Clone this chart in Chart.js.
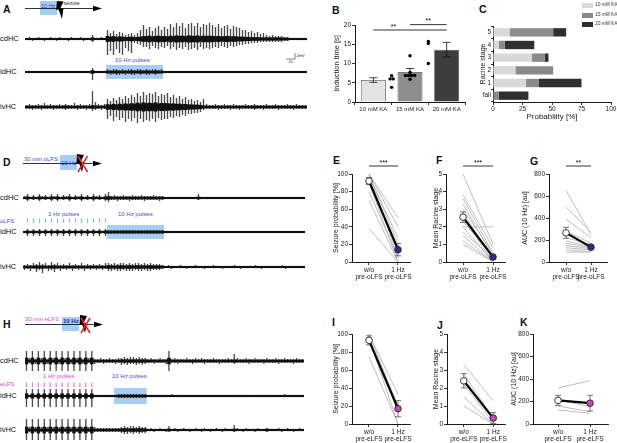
<!DOCTYPE html>
<html>
<head>
<meta charset="utf-8">
<script src="https://cdn.jsdelivr.net/npm/chart.js@4.4.1/dist/chart.umd.min.js"></script>
<style>
html, body { margin: 0; padding: 0; background: #fff; }
body { width: 617px; height: 443px; position: relative; overflow: hidden; font-family: "Liberation Sans", Arial, sans-serif; color: #111; }
.box { position: absolute; }
.t { position: absolute; white-space: nowrap; line-height: 1; }
.lt { font-weight: bold; font-size: 10.5px; }
.tr { font-size: 7.5px; }
.sm { font-size: 6px; }
.blue { color: #4a4ad6; }
.mag { color: #e048d0; }
.leg { position: absolute; width: 11px; height: 5px; }
</style>
</head>
<body>

<svg class="box" style="left:0;top:0" width="617" height="443" viewBox="0 0 617 443" font-family="Liberation Sans, Arial, sans-serif">
  <!-- A schematic -->
  <rect x="40" y="1" width="17" height="14" fill="#a6cef3"/>
  <line x1="25" y1="8.5" x2="95" y2="8.5" stroke="#000" stroke-width="0.8"/>
  <polygon points="93,5.8 102,8.5 93,11.2" fill="#000"/>
  <text x="41" y="7.5" font-size="5.5" fill="#3a3ad0">10 Hz</text>
  <polygon points="57,1 63.5,1.5 60.5,8 63.5,8 62,19 58.5,9.5 56,10" fill="#000"/>
  <text x="63.5" y="5" font-size="5" fill="#222">seizure</text>
  <polyline points="286,59 295,59 295,53" fill="none" stroke="#000" stroke-width="0.5"/>
  <text x="296.5" y="56.5" font-size="4" fill="#222">2mV</text>
  <text x="288.5" y="63" font-size="4" fill="#222">2s</text>
  <!-- D schematic -->
  <rect x="60" y="155" width="17" height="15" fill="#a6cef3"/>
  <text x="24" y="160.5" font-size="6" fill="#4848d8">30 min oLFS</text>
  <line x1="23" y1="163.5" x2="95" y2="163.5" stroke="#000" stroke-width="0.8"/>
  <polygon points="93,160.8 102,163.5 93,166.2" fill="#000"/>
  <text x="61" y="165" font-size="6" fill="#2a2ac8">10 Hz</text>
  <polygon points="77,154 84,155 80.5,162 84,162 82,172 79,163 76.5,164" fill="#000"/>
  <line x1="78" y1="156" x2="87.5" y2="172" stroke="#e3262a" stroke-width="1.6"/>
  <line x1="87.5" y1="156" x2="78" y2="172" stroke="#e3262a" stroke-width="1.6"/>
  <!-- H schematic -->
  <rect x="62" y="317" width="17" height="14" fill="#a6cef3"/>
  <text x="25" y="321" font-size="6" fill="#e048d0">30 min eLFS</text>
  <line x1="25" y1="324.5" x2="96" y2="324.5" stroke="#000" stroke-width="0.8"/>
  <polygon points="94,321.8 103,324.5 94,327.2" fill="#000"/>
  <text x="63" y="322.5" font-size="6" font-weight="bold" fill="#2424b8">10 Hz</text>
  <polygon points="80,315 87,316 83.5,323 87,323 85,333 82,324 79.5,325" fill="#000"/>
  <line x1="81" y1="318" x2="90" y2="333" stroke="#e3262a" stroke-width="1.6"/>
  <line x1="90" y1="318" x2="81" y2="333" stroke="#e3262a" stroke-width="1.6"/>
</svg>

<!-- panel letters -->
<div class="t lt" style="left:3px;top:3.5px">A</div>
<div class="t lt" style="left:332px;top:4.5px">B</div>
<div class="t lt" style="left:479px;top:3.5px">C</div>
<div class="t lt" style="left:3px;top:156.5px">D</div>
<div class="t lt" style="left:333px;top:154.5px">E</div>
<div class="t lt" style="left:436px;top:155px">F</div>
<div class="t lt" style="left:530px;top:156px">G</div>
<div class="t lt" style="left:3px;top:318.5px">H</div>
<div class="t lt" style="left:332px;top:316.5px">I</div>
<div class="t lt" style="left:437px;top:320px">J</div>
<div class="t lt" style="left:520px;top:316.5px">K</div>

<!-- trace labels -->
<div class="t tr" style="left:0;top:35px">cdHC</div>
<div class="t tr" style="left:0;top:68px">idHC</div>
<div class="t tr" style="left:0;top:103px">ivHC</div>
<div class="t tr" style="left:0;top:194px">cdHC</div>
<div class="t tr" style="left:0;top:228px">idHC</div>
<div class="t tr" style="left:0;top:263px">ivHC</div>
<div class="t tr" style="left:0;top:357px">cdHC</div>
<div class="t tr" style="left:0;top:392px">idHC</div>
<div class="t tr" style="left:0;top:426px">ivHC</div>

<div class="t sm blue" style="left:115px;top:57px">10 Hz pulses</div>
<div class="t sm blue" style="left:48px;top:211px">1 Hz pulses</div>
<div class="t sm blue" style="left:118px;top:211px">10 Hz pulses</div>
<div class="t sm blue" style="left:0;top:218px">oLFS</div>
<div class="t sm mag" style="left:43px;top:373px">1 Hz pulses</div>
<div class="t sm blue" style="left:112px;top:373px">10 Hz pulses</div>
<div class="t sm mag" style="left:0;top:381px">eLFS</div>

<!-- C legend -->
<div class="leg" style="left:582px;top:3px;background:#d9d9d9"></div>
<div class="leg" style="left:582px;top:12.5px;background:#8a8a8a"></div>
<div class="leg" style="left:582px;top:22px;background:#2f2f2f"></div>
<div class="t" style="left:595px;top:3px;font-size:4.8px;color:#333">10 mM KA</div>
<div class="t" style="left:595px;top:12.5px;font-size:4.8px;color:#333">15 mM KA</div>
<div class="t" style="left:595px;top:22px;font-size:4.8px;color:#333">20 mM KA</div>

<!-- traces -->
<div class="box" style="left:25px;top:19px;width:282px;height:40px"><canvas id="tA1"></canvas></div>
<div class="box" style="left:25px;top:52px;width:282px;height:40px"><canvas id="tA2"></canvas></div>
<div class="box" style="left:25px;top:87px;width:282px;height:40px"><canvas id="tA3"></canvas></div>
<div class="box" style="left:23px;top:178px;width:282px;height:40px"><canvas id="tD1"></canvas></div>
<div class="box" style="left:23px;top:212px;width:282px;height:40px"><canvas id="tD2"></canvas></div>
<div class="box" style="left:23px;top:247px;width:282px;height:40px"><canvas id="tD3"></canvas></div>
<div class="box" style="left:25px;top:341px;width:279px;height:40px"><canvas id="tH1"></canvas></div>
<div class="box" style="left:25px;top:376px;width:279px;height:40px"><canvas id="tH2"></canvas></div>
<div class="box" style="left:25px;top:410px;width:279px;height:40px"><canvas id="tH3"></canvas></div>

<!-- summary charts -->
<div class="box" style="left:330px;top:0;width:150px;height:116px"><canvas id="cB"></canvas></div>
<div class="box" style="left:478px;top:0;width:139px;height:122px"><canvas id="cC"></canvas></div>
<div class="box" style="left:330px;top:148px;width:88px;height:142px"><canvas id="cE"></canvas></div>
<div class="box" style="left:424px;top:148px;width:88px;height:142px"><canvas id="cF"></canvas></div>
<div class="box" style="left:516px;top:148px;width:101px;height:142px"><canvas id="cG"></canvas></div>
<div class="box" style="left:330px;top:310px;width:88px;height:133px"><canvas id="cI"></canvas></div>
<div class="box" style="left:424px;top:310px;width:88px;height:133px"><canvas id="cJ"></canvas></div>
<div class="box" style="left:508px;top:310px;width:109px;height:133px"><canvas id="cK"></canvas></div>

<script>
'use strict';

// EEG envelopes: px above (up) and below (down) baseline, one value per ~3 px bin
const cdA_up = [1,2,1,1,2,1,1,1,2,1, 1,2,1,1,1,2,1,1,2,1, 1,1, 4, 1,1,2,1,
  9,6,8,5,7,6,4,5,6, 4,6,9,14, 10,12,8,11,13,9,12,10,
  15,12,16,13,16,11,15,16,13,16,12,15,14,16, 14,12,15,11,13,14,10,13,12,11,9,
  9,7,8,6,7,5,6, 4,3,4,3,3,3,2,2, 1,1,1,1,1,1];
const cdA_down = [1,1,2,1,1,1,2,1,1,1, 2,1,1,1,2,1,1,1,1,2, 1,1, 3, 1,1,1,1,
  16,12,16,10,14,16,9,12,14, 4,5,6,8, 8,10,7,9,10,8,9,7,
  10,8,11,9,10,8,11,10,9,11,8,10,9,10, 9,8,9,7,8,9,7,8,7,6,6,
  5,5,4,4,4,3,3, 3,3,3,3,3,3,2,2, 1,1,1,1,1,1];
const idA_up = [1,1,1,1,1,1,1,1,1,1, 1,1,1,1,1,1,1,1,1,1, 1,1, 4, 1,1,1,1,
  3,2,3,3,2,3,2,3,3,2, 3,3,2,3,2,3,3,2,3,
  1,1,1,1,1,1,1,1,1,1, 1,1,1,1,1,1,1,1,1,1, 1,1,1,1,1,1,1,1,1,1, 1,1,1,1,1,1,1,1,1,1, 1,1,1,1,1,1,1,1];
const idA_down = [1,1,1,1,1,1,1,1,1,1, 1,1,1,1,1,1,1,1,1,1, 1,1, 8, 1,1,1,1,
  2,3,2,3,3,2,3,2,3,3, 2,3,2,3,3,2,3,2,2,
  1,1,1,1,1,1,1,1,1,1, 1,1,1,1,1,1,1,1,1,1, 1,1,1,1,1,1,1,1,1,1, 1,1,1,1,1,1,1,1,1,1, 1,1,1,1,1,1,1,1];
const ivA_up = [2,3,2,2,3,2,4,2,3,2, 2,3,2,3,2,2,4,2,3,2, 2,3, 16,5, 3,2,3,
  8,6,9,7,10,8,11,9,12,10, 14,11,15,12,14,13,15,11,13,12, 14,10,12,9,11,8,10,7,8,6, 7,5,
  8,3,2,
  2,3,2,2,3,2,2,3,2,2, 2,3,2,2,3,2,2,2,3,2, 2,3,2,2,2,3,2,2,3,2, 2,2];
const ivA_down = [2,2,3,2,2,3,2,2,2,3, 2,2,2,3,2,2,2,3,2,2, 3,2, 4,3, 2,3,2,
  12,9,14,10,13,11,15,12,14,11, 16,12,15,13,14,12,15,11,13,12, 12,10,11,9,10,8,9,7,7,6, 6,5,
  3,2,2,
  2,2,3,2,2,2,3,2,2,3, 2,2,2,2,3,2,2,3,2,2, 2,2,3,2,2,2,2,3,2,2, 2,2];

const cdD_up = [2,4,1,3,1,4,2,3,1,4, 2,4,1,3,2,4,1,3,2,4, 1,3,1,4,2,3,1,4, 6,
  2,3,2,2,3,2,2,3,2,2, 3,2,2,2,3,2,2,2,
  1,1,1,1,1,1,1,1,1,1, 1,4,1,1,1,1,1,1,1,1, 1,1,1,1,1,1,1,1,1,1, 1,1,1,1,1,1,1,1,1,1, 1,1,1,1,1,1,1];
const cdD_down = [1,3,1,2,1,3,1,2,1,3, 1,3,1,2,1,3,1,2,1,3, 1,2,1,3,1,2,1,3, 4,
  2,2,3,2,2,2,3,2,2,2, 2,3,2,2,2,2,3,2,
  1,1,1,1,1,1,1,1,1,1, 1,2,1,1,1,1,1,1,1,1, 1,1,1,1,1,1,1,1,1,1, 1,1,1,1,1,1,1,1,1,1, 1,1,1,1,1,1,1];
const idD_up = [1,3,1,3,1,3,1,3,1,3, 1,3,1,3,1,3,1,3,1,3, 1,3,1,3,1,3,1,3,
  2,2,2,2,2,2,2,2,2,2, 2,2,2,2,2,2,2,2,2,
  1,1,1,1,1,1,1,1,1,1, 1,1,1,1,1,1,1,1,1,1, 1,1,1,1,1,1,1,1,1,1, 1,1,1,1,1,1,1,1,1,1, 1,1,1,1,1,1,1];
const idD_down = [1,4,1,4,1,4,1,4,1,4, 1,4,1,4,1,4,1,4,1,4, 1,4,1,4,1,4,1,4,
  2,2,2,2,2,2,2,2,2,2, 2,2,2,2,2,2,2,2,2,
  1,1,1,1,1,1,1,1,1,1, 1,1,1,1,1,1,1,1,1,1, 1,1,1,1,1,1,1,1,1,1, 1,1,1,1,1,1,1,1,1,1, 1,1,1,1,1,1,1];
const ivD_up = [2,3,2,4,3,5,3,4,2,5, 3,4,2,3,2,4,2,3,2,4, 2,3,2,3,2,3,2,4,
  4,3,4,3,4,4,3,4,3,4, 4,3,4,3,4,3,3,3,2,
  1,2,1,1,1,2,1,1,1,1, 2,1,1,1,1,1,2,1,1,1, 1,1,1,2,1,1,1,1,1,1, 2,1,1,1,1,1,1,1,1,2, 1,1,1,1,1,1,1];
const ivD_down = [3,2,4,2,5,3,6,2,4,3, 5,2,4,2,3,2,4,2,3,2, 4,2,3,2,3,2,3,2,
  4,4,3,4,4,3,4,4,4,3, 4,4,3,4,4,3,3,3,2,
  1,1,2,1,1,1,1,2,1,1, 1,1,1,2,1,1,1,1,1,2, 1,1,1,1,1,2,1,1,1,1, 1,1,2,1,1,1,1,1,1,1, 2,1,1,1,1,1,1];

const cdH_up = [10,3,10,2,10,3,10,2,10,3, 10,2,10,3,10,2,10,3,10,2, 10,3,10,2,
  2,3,2,2,3,2,2,3, 3,4,3,4,4,3,4,3,3,
  2,3,2,2,3,2,2,10,2,3, 2,2,2,3,2,2,3,2,3,2, 2,2,3,2,2,2,2,3,2,7, 3,2,2,3,2,2,3,2,2,2, 3,2,2,3,2,2,3,2,2,2, 3,2,2];
const cdH_down = [10,2,10,3,10,2,10,3,10,2, 10,3,10,2,10,3,10,2,10,3, 10,2,10,3,
  2,2,3,2,2,2,3,2, 4,3,4,3,3,4,3,4,3,
  2,2,3,2,2,2,3,10,2,2, 3,2,2,2,2,3,2,2,2,3, 2,2,2,2,3,2,2,2,2,3, 2,2,2,2,3,2,2,2,2,3, 2,2,2,2,3,2,2,2,2,3, 2,2,2];
const idH_up = [7,1,7,1,7,1,7,1,7,1, 7,1,7,1,7,1,7,1,7,1, 7,1,7,1,
  1,1,1,1,1,1,1, 2,2,2,2,2,2,2,2,2,2,
  1,1,1,1,1,1,1,1,2,1, 1,1,1,1,1,1,1,1,1,1, 1,1,1,1,1,1,1,1,1,1, 1,1,1,1,1,1,1,1,1,1, 1,1,1,1,1,1,2,1,1,1, 1,1,1];
const idH_down = [11,1,11,1,11,1,11,1,11,1, 11,1,11,1,11,1,11,1,11,1, 11,1,11,1,
  1,1,1,1,1,1,1, 2,2,2,2,2,2,2,2,2,2,
  1,1,1,1,1,1,1,1,1,1, 1,1,1,1,1,1,1,1,1,1, 1,1,1,1,1,1,1,1,1,1, 1,1,1,1,1,1,1,1,1,1, 1,1,1,1,1,1,1,1,1,1, 1,1,1];
const ivH_up = [11,3,11,3,11,3,11,3,11,3, 11,3,11,3,11,3,11,3,11,3, 11,3,11,3,
  2,2,2,2,2,2,2,2, 3,4,3,4,4,3,4,3,3,
  1,2,1,1,2,1,1,4,1,2, 1,1,2,1,1,1,2,1,1,2, 1,1,1,2,1,1,2,1,1,5, 2,1,1,2,1,1,1,2,1,1, 2,1,1,1,2,1,1,2,1,1, 1,2,1];
const ivH_down = [10,2,10,2,10,2,10,2,10,2, 10,2,10,2,10,2,10,2,10,2, 10,2,10,2,
  2,2,2,2,2,2,2,2, 3,4,4,3,4,3,4,3,3,
  1,1,2,1,1,1,2,2,1,1, 2,1,1,1,2,1,1,1,2,1, 1,2,1,1,1,2,1,1,1,2, 1,1,2,1,1,1,2,1,1,1, 2,1,1,1,1,2,1,1,1,2, 1,1,1];

// stimulation windows (bin ranges) and single pulse bins
const boxA = [27, 45];
const boxD = [28, 46];
const boxH = [30, 40];
const pulsesD = [1, 3, 5, 7, 9, 11, 13, 15, 17, 19, 21, 23, 25, 27];
const pulsesH = [0, 2, 4, 6, 8, 10, 12, 14, 16, 18, 20, 22];

// B: induction time
const groupsB = ['10 mM KA', '15 mM KA', '20 mM KA'];
const meanB = [5.7, 7.8, 13.6];
const semB = [0.6, 0.9, 1.9];
const dotsB = [[6, 6, 6.8, 3.8], [12, 7.7, 6.9, 6.9, 6.9, 6.9, 5.9], [15.7, 15.2, 10]];

// C: Racine stage probability
const stagesC = ['5', '4', '3', '2', '1', 'fail'];
const c10 = [14, 5, 33, 19, 28, 0];
const c15 = [37, 5, 11, 32, 11, 5];
const c20 = [11, 25, 3, 0, 36, 25];

// E-K: paired animals, means and SEM
const xLabO = [['w/o', 'pre-oLFS'], ['1 Hz', 'pre-oLFS']];
const xLabE = [['w/o', 'pre-eLFS'], ['1 Hz', 'pre-eLFS']];
const preE = [100, 100, 98, 100, 95, 100, 90, 80, 70, 38];
const postE = [50, 40, 27, 20, 12, 5, 0, 5, 0, 0];
const meanE = [92, 14];
const semE = [4, 7];
const preF = [5.0, 3.8, 3.6, 3.3, 3.0, 2.8, 2.5, 2.3, 2.0, 2.0, 1.7, 1.5, 1.2, 1.0];
const postF = [1.0, 0.8, 0.5, 0.3, 0.5, 0.2, 0, 0.3, 2.0, 0, 0.2, 0, 0, 0];
const meanF = [2.55, 0.28];
const semF = [0.3, 0.12];
const preG = [650, 500, 390, 280, 220, 190, 170, 150, 130, 110, 90];
const postG = [250, 270, 220, 170, 160, 140, 130, 120, 110, 95, 90];
const meanG = [265, 135];
const semG = [50, 15];
const preI = [100, 100, 95, 75];
const postI = [33, 20, 0, 0];
const meanI = [93, 17];
const semI = [5, 9];
const preJ = [3.3, 2.8, 2.2, 1.5, 1.0];
const postJ = [1.3, 0.3, 0.1, 0, 0];
const meanJ = [2.4, 0.33];
const semJ = [0.4, 0.3];
const preK = [320, 215, 160, 125];
const postK = [385, 155, 110, 95];
const meanK = [210, 185];
const semK = [45, 70];

Chart.defaults.font.family = '"Liberation Sans", Arial, Helvetica, sans-serif';
Chart.defaults.font.size = 6.5;
Chart.defaults.color = '#1a1a1a';
Chart.defaults.animation = false;
Chart.defaults.responsive = true;
Chart.defaults.maintainAspectRatio = false;
Chart.defaults.events = [];
Chart.defaults.plugins.legend.display = false;
Chart.defaults.plugins.tooltip.enabled = false;

const axisGrid = { drawOnChartArea: false, drawTicks: true, tickLength: 3, color: '#000', lineWidth: 0.8 };
const axisBorder = { color: '#000', width: 0.9 };

// one EEG channel: spikes as thin floating bars, a darker core, stim window behind
function traceChart(id, up, down, box, boxHalf, pulses, pulseColor) {
  const labels = up.map((u, i) => i);
  const datasets = [
    { data: up.map((u, i) => [-down[i], u]), backgroundColor: '#4a4a4a', barPercentage: 0.45, order: 1 },
    { data: up.map((u, i) => {
        const c = 0.5 + 0.25 * Math.min(u, down[i]);
        return [-c, c];
      }), backgroundColor: '#111', barPercentage: 1, order: 0 }
  ];
  if (pulses) {
    datasets.push({ data: labels.map(i => pulses.includes(i) ? [9, 13.5] : null),
      backgroundColor: pulseColor, barPercentage: 0.4, order: 2 });
  }
  datasets.forEach(ds => Object.assign(ds, { grouped: false, categoryPercentage: 1 }));

  const stimBox = {
    id: 'stimBox',
    beforeDatasetsDraw(chart) {
      if (!box) return;
      const { ctx, scales: { x, y } } = chart;
      const half = (x.getPixelForValue(1) - x.getPixelForValue(0)) / 2;
      const x0 = x.getPixelForValue(box[0]) - half;
      const x1 = x.getPixelForValue(box[1]) + half;
      const y0 = y.getPixelForValue(boxHalf);
      const y1 = y.getPixelForValue(-boxHalf);
      ctx.save();
      ctx.fillStyle = '#a6cef3';
      ctx.fillRect(x0, y0, x1 - x0, y1 - y0);
      ctx.restore();
    }
  };

  new Chart(document.getElementById(id), {
    type: 'bar',
    data: { labels, datasets },
    options: {
      layout: { padding: 0 },
      scales: {
        x: { display: false },
        y: { display: false, min: -20, max: 20 }
      }
    },
    plugins: [stimBox]
  });
}

traceChart('tA1', cdA_up, cdA_down);
traceChart('tA2', idA_up, idA_down, boxA, 7);
traceChart('tA3', ivA_up, ivA_down);
traceChart('tD1', cdD_up, cdD_down);
traceChart('tD2', idD_up, idD_down, boxD, 7, pulsesD, '#8cb8e8');
traceChart('tD3', ivD_up, ivD_down);
traceChart('tH1', cdH_up, cdH_down);
traceChart('tH2', idH_up, idH_down, boxH, 8, pulsesH, '#e678dc');
traceChart('tH3', ivH_up, ivH_down);

// B: bars + individual animals
const dotPts = [];
dotsB.forEach((vals, g) => {
  vals.forEach((v, j) => {
    const same = vals.filter(w => w === v).length;
    const rank = vals.slice(0, j).filter(w => w === v).length;
    dotPts.push({ x: g + (rank - (same - 1) / 2) * 0.17, y: v });
  });
});
const sigB = [{ from: 0, to: 2, y: 18.7, at: 0.55 }, { from: 1, to: 2, y: 20.1, at: 1.5 }];

const bMarks = {
  id: 'bMarks',
  afterDatasetDraw(chart, args) {
    if (args.index !== 0) return;
    const { ctx, scales: { x, y } } = chart;
    ctx.save();
    ctx.strokeStyle = '#111';
    ctx.lineWidth = 0.8;
    meanB.forEach((m, i) => {
      const px = x.getPixelForValue(i);
      const lo = y.getPixelForValue(m - semB[i]);
      const hi = y.getPixelForValue(m + semB[i]);
      ctx.beginPath();
      ctx.moveTo(px, lo); ctx.lineTo(px, hi);
      ctx.moveTo(px - 4, hi); ctx.lineTo(px + 4, hi);
      ctx.moveTo(px - 4, lo); ctx.lineTo(px + 4, lo);
      ctx.stroke();
    });
    ctx.restore();
  },
  afterDraw(chart) {
    const { ctx, scales: { x, y } } = chart;
    ctx.save();
    ctx.strokeStyle = '#000';
    ctx.fillStyle = '#000';
    ctx.lineWidth = 0.8;
    ctx.font = '7px "Liberation Sans", Arial, sans-serif';
    ctx.textAlign = 'center';
    sigB.forEach(s => {
      const py = y.getPixelForValue(s.y);
      ctx.beginPath();
      ctx.moveTo(x.getPixelForValue(s.from), py);
      ctx.lineTo(x.getPixelForValue(s.to), py);
      ctx.stroke();
      ctx.fillText('**', x.getPixelForValue(s.at), py - 1.5);
    });
    ctx.restore();
  }
};

new Chart(document.getElementById('cB'), {
  type: 'bar',
  data: {
    labels: groupsB,
    datasets: [
      { data: meanB, backgroundColor: ['#e3e3e3', '#8e8e8e', '#3d3d3d'], borderColor: '#4a4a4a',
        borderWidth: 0.8, barPercentage: 0.68, categoryPercentage: 1, grouped: false, order: 1 },
      { type: 'scatter', xAxisID: 'xd', data: dotPts, backgroundColor: '#000',
        pointRadius: 1.7, pointBorderWidth: 0, order: 0 }
    ]
  },
  options: {
    layout: { padding: { top: 25, right: 15 } },
    scales: {
      x: { grid: axisGrid, border: axisBorder, ticks: { padding: 1, font: { size: 6 } },
        afterFit: s => { s.height = 14; } },
      xd: { type: 'linear', display: false, min: -0.5, max: 2.5 },
      y: { min: 0, max: 20, ticks: { stepSize: 5, padding: 1 }, grid: axisGrid, border: axisBorder,
        title: { display: true, text: 'Induction time [s]', font: { size: 7.5 }, padding: { top: 2, bottom: 0 } },
        afterFit: s => { s.width = 25; } }
    }
  },
  plugins: [bMarks]
});

// C: stacked horizontal bars
new Chart(document.getElementById('cC'), {
  type: 'bar',
  data: {
    labels: stagesC,
    datasets: [
      { data: c10, backgroundColor: '#d9d9d9' },
      { data: c15, backgroundColor: '#8a8a8a' },
      { data: c20, backgroundColor: '#2f2f2f' }
    ].map(ds => Object.assign(ds, { barPercentage: 0.66, categoryPercentage: 1 }))
  },
  options: {
    indexAxis: 'y',
    layout: { padding: { top: 26, right: 6 } },
    scales: {
      x: { stacked: true, min: 0, max: 100, ticks: { stepSize: 25, padding: 0 }, grid: axisGrid, border: axisBorder,
        title: { display: true, text: 'Probability [%]', font: { size: 8 }, padding: { top: 0, bottom: 0 } },
        afterFit: s => { s.height = 20; } },
      y: { stacked: true, grid: Object.assign({}, axisGrid, { tickLength: 2 }), border: axisBorder, ticks: { padding: 0 },
        title: { display: true, text: 'Racine stage', font: { size: 7 }, padding: { top: 1, bottom: 0 } },
        afterFit: s => { s.width = 15; } }
    }
  }
});

// E-K: before / after plots
function pairedChart(id, d) {
  const datasets = d.pre.map((v, i) => ({
    data: [{ x: 0, y: v }, { x: 1, y: d.post[i] }],
    borderColor: '#b8b8b8', borderWidth: 0.9, pointRadius: 0, clip: false, order: 2
  }));
  datasets.push({
    data: [{ x: 0, y: d.mean[0] }, { x: 1, y: d.mean[1] }],
    borderColor: '#000', borderWidth: 2.2, pointRadius: 3.3, clip: false,
    pointBackgroundColor: ['#ffffff', d.color], pointBorderColor: '#222', pointBorderWidth: 0.9, order: 0
  });
  const marks = {
    id: 'marks',
    beforeDatasetDraw(chart, args) {
      if (args.index !== datasets.length - 1) return;
      const { ctx, scales: { x, y } } = chart;
      ctx.save();
      ctx.strokeStyle = '#555';
      ctx.lineWidth = 0.8;
      d.mean.forEach((m, i) => {
        const px = x.getPixelForValue(i);
        const lo = y.getPixelForValue(Math.max(0, m - d.sem[i]));
        const hi = y.getPixelForValue(m + d.sem[i]);
        ctx.beginPath();
        ctx.moveTo(px, lo); ctx.lineTo(px, hi);
        ctx.moveTo(px - 3, hi); ctx.lineTo(px + 3, hi);
        ctx.moveTo(px - 3, lo); ctx.lineTo(px + 3, lo);
        ctx.stroke();
      });
      ctx.restore();
    },
    afterDraw(chart) {
      if (!d.sig) return;
      const { ctx, chartArea, scales: { x } } = chart;
      const py = chartArea.top - 8;
      ctx.save();
      ctx.strokeStyle = '#000';
      ctx.fillStyle = '#000';
      ctx.lineWidth = 0.8;
      ctx.beginPath();
      ctx.moveTo(x.getPixelForValue(0), py);
      ctx.lineTo(x.getPixelForValue(1), py);
      ctx.stroke();
      ctx.font = '7px "Liberation Sans", Arial, sans-serif';
      ctx.textAlign = 'center';
      ctx.fillText(d.sig, x.getPixelForValue(0.5), py - 1.5);
      ctx.restore();
    }
  };
  new Chart(document.getElementById(id), {
    type: 'line',
    data: { datasets },
    options: {
      layout: { padding: { top: d.padTop, right: d.padRight, left: 0, bottom: 0 } },
      scales: {
        x: { type: 'linear', min: d.xMin, max: d.xMax, bounds: 'data',
          afterBuildTicks: s => { s.ticks = [{ value: 0 }, { value: 1 }]; },
          ticks: { autoSkip: false, maxRotation: 0, padding: 2, font: { size: 6.5, lineHeight: 1 },
            callback: (v, i) => d.xLabels[i] },
          grid: axisGrid, border: axisBorder,
          afterFit: s => { s.height = d.xHeight; } },
        y: { min: 0, max: d.yMax, ticks: { stepSize: d.yStep, padding: 1 },
          grid: axisGrid, border: axisBorder,
          title: { display: true, text: d.yTitle, font: { size: 7 }, padding: { top: d.titlePad, bottom: 0 } },
          afterFit: s => { s.width = d.yWidth; } }
      }
    },
    plugins: [marks]
  });
}

const oColor = '#2e2e92';
const eColor = '#c24cb4';
pairedChart('cE', { pre: preE, post: postE, mean: meanE, sem: semE, color: oColor, xLabels: xLabO,
  yMax: 100, yStep: 20, yTitle: 'Seizure probability [%]', sig: '***',
  yWidth: 22, xHeight: 28, padTop: 26, padRight: 8, titlePad: 1.8, xMin: -0.586, xMax: 1.414 });
pairedChart('cF', { pre: preF, post: postF, mean: meanF, sem: semF, color: oColor, xLabels: xLabO,
  yMax: 5, yStep: 1, yTitle: 'Mean Racine stage', sig: '***',
  yWidth: 22, xHeight: 28, padTop: 26, padRight: 7, titlePad: 7.8, xMin: -0.567, xMax: 1.4 });
pairedChart('cG', { pre: preG, post: postG, mean: meanG, sem: semG, color: oColor, xLabels: xLabO,
  yMax: 800, yStep: 200, yTitle: 'AUC (10 Hz) [au]', sig: '**',
  yWidth: 33, xHeight: 28, padTop: 26, padRight: 10, titlePad: 4.8, xMin: -0.68, xMax: 1.64 });
pairedChart('cI', { pre: preI, post: postI, mean: meanI, sem: semI, color: eColor, xLabels: xLabE,
  yMax: 100, yStep: 20, yTitle: 'Seizure probability [%]',
  yWidth: 22, xHeight: 19, padTop: 24, padRight: 8, titlePad: 1.8, xMin: -0.586, xMax: 1.414 });
pairedChart('cJ', { pre: preJ, post: postJ, mean: meanJ, sem: semJ, color: eColor, xLabels: xLabE,
  yMax: 5, yStep: 1, yTitle: 'Mean Racine stage',
  yWidth: 23, xHeight: 19, padTop: 24, padRight: 7, titlePad: 7.8, xMin: -0.567, xMax: 1.4 });
pairedChart('cK', { pre: preK, post: postK, mean: meanK, sem: semK, color: eColor, xLabels: xLabE,
  yMax: 800, yStep: 200, yTitle: 'AUC (10 Hz) [au]',
  yWidth: 25, xHeight: 19, padTop: 24, padRight: 9, titlePad: 1.8, xMin: -0.78, xMax: 1.56 });
</script>
</body>
</html>
